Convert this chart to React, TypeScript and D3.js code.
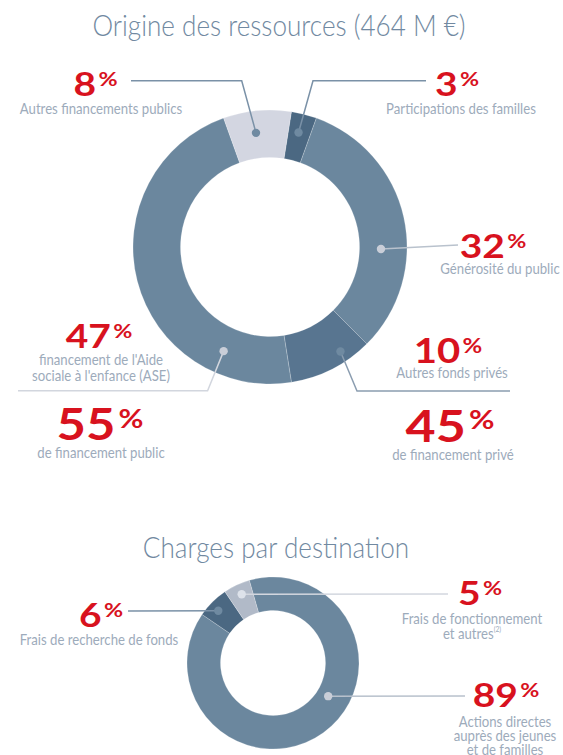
import React from "react";
import * as d3 from "d3";

// ---------- data ----------
const resourceCategories = [
  "Participations des familles",
  "Générosité du public",
  "Autres fonds privés",
  "financement de l'Aide sociale à l'enfance (ASE)",
  "Autres financements publics",
];
const resourceValues = [3, 32, 10, 47, 8];
const fundingGroups = ["de financement public", "de financement privé"];
const fundingValues = [55, 45];

const chargeCategories = [
  "Actions directes auprès des jeunes et de familles",
  "Frais de recherche de fonds",
  "Frais de fonctionnement et autres",
];
const chargeValues = [89, 6, 5];

const titles = ["Origine des ressources (464 M €)", "Charges par destination"];

// ---------- styles / layout ----------
const W = 563;
const H = 755;
const FONT = "Lato, 'Open Sans', sans-serif";
const RED = "#d8121e";
const GREY = "#9dabbb";
const TITLE_C = "#7189a1";
const KDESC = 0.89;
const KNUM = 1.18;
const KTITLE = 0.87;
const DESC_SIZE = 14.8;

const topDonut = {
  cx: 270, cy: 247, ro: 137, ri: 89.5, start: 9,
  colors: ["#4b6882", "#6b879e", "#587590", "#6b879e", "#d3d6e1"],
  dots: [
    { a: 14, r: 118, fill: "#6f8aa1" },
    { a: 91, r: 111, fill: "#c9ced8" },
    { a: 146, r: 126, fill: "#6f8aa1" },
    { a: 204, r: 114, fill: "#c9ced8" },
    { a: -7, r: 115, fill: "#6f8aa1" },
  ],
  leaders: [
    { pts: [[313, 80.7], [426, 80.7]], stroke: "#7a91a7" },
    { pts: [[458, 245]], stroke: "#b9c2cd" },
    { pts: [[357, 391], [510, 391]], stroke: "#8b9db0" },
    { pts: [[207.6, 390.7], [18, 390.7]], stroke: "#d2d6de" },
    { pts: [[241.7, 80.7], [131, 80.7]], stroke: "#7a91a7" },
  ],
  labels: [
    { nx: 457, ny: 96, ns: 33, dx: 461, dy: 114, gap: 16, lines: ["Participations des familles"] },
    { nx: 493, ny: 258, ns: 33, dx: 500, dy: 274, gap: 16, lines: ["Générosité du public"] },
    { nx: 448, ny: 363, ns: 34, dx: 452, dy: 378, gap: 16, lines: ["Autres fonds privés"] },
    { nx: 99, ny: 348, ns: 33, dx: 101, dy: 365, gap: 16, lines: ["financement de l'Aide", "sociale à l'enfance (ASE)"] },
    { nx: 95.5, ny: 96, ns: 33, dx: 101, dy: 114, gap: 16, lines: ["Autres financements publics"] },
  ],
};

const fundingLabels = [
  { nx: 100, ny: 440, ns: 43 },
  { nx: 450, ny: 442, ns: 44 },
];
const fundingDesc = [
  { dx: 101, dy: 458 },
  { dx: 453, dy: 460 },
];

const bottomDonut = {
  cx: 273, cy: 663, ro: 86, ri: 52.5, start: -16,
  colors: ["#6b879e", "#4b6882", "#b1bac8"],
  dots: [
    { a: 121, r: 64.4, fill: "#c9ced8" },
    { a: -46.3, r: 75.7, fill: "#6f8aa1" },
    { a: -24.5, r: 75.5, fill: "#dde2ea" },
  ],
  leaders: [
    { pts: [[465, 696]], stroke: "#b8c1cc" },
    { pts: [[128, 611]], stroke: "#7a91a7" },
    { pts: [[448, 594]], stroke: "#d3d7df" },
  ],
  labels: [
    { nx: 506, ny: 707, ns: 33, dx: 505, dy: 727, gap: 14.2, lines: ["Actions directes", "auprès des jeunes", "et de familles"] },
    { nx: 101, ny: 627, ns: 33, dx: 99, dy: 645, gap: 14, lines: ["Frais de recherche de fonds"] },
    { nx: 480, ny: 605, ns: 33, dx: 472, dy: 624, gap: 14.5, lines: ["Frais de fonctionnement", "et autres"], sup: "(2)" },
  ],
};

const rad = (deg: number) => (deg * Math.PI) / 180;

function Pct({ x, y, value, size }: { x: number; y: number; value: number; size: number }) {
  const ps = size * 0.6;
  const cap = 0.72;
  return (
    <text
      transform={`translate(${x},${y}) scale(${KNUM},1)`}
      textAnchor="middle"
      fontFamily={FONT}
      fontWeight={700}
      fontSize={size}
      fill={RED}
    >
      {value}
      <tspan fontSize={ps} dx={size * 0.06} dy={-(size * cap - ps * cap)}>%</tspan>
    </text>
  );
}

function Desc({ x, y, lines, gap, sup }: { x: number; y: number; lines: string[]; gap: number; sup?: string }) {
  return (
    <g transform={`translate(${x},${y}) scale(${KDESC},1)`}>
      {lines.map((l, i) => (
        <text key={i} x={0} y={i * gap} textAnchor="middle" fontFamily={FONT} fontWeight={400} fontSize={DESC_SIZE} fill={GREY}>
          {l}
          {sup && i === lines.length - 1 ? (
            <tspan fontSize={7.5} dy={-6}>{sup}</tspan>
          ) : null}
        </text>
      ))}
    </g>
  );
}

function Donut({ cfg, values }: { cfg: any; values: number[] }) {
  const pie = d3
    .pie<number>()
    .sort(null)
    .value((d) => d)
    .startAngle(rad(cfg.start))
    .endAngle(rad(cfg.start + 360));
  const arc = d3.arc<d3.PieArcDatum<number>>().innerRadius(cfg.ri).outerRadius(cfg.ro);
  const arcs = pie(values);
  const dotPos = (i: number) => {
    const d = cfg.dots[i];
    return [cfg.cx + d.r * Math.sin(rad(d.a)), cfg.cy - d.r * Math.cos(rad(d.a))];
  };
  const line = d3.line();
  return (
    <g>
      <g transform={`translate(${cfg.cx},${cfg.cy})`}>
        {arcs.map((a, i) => (
          <path key={i} d={arc(a) || ""} fill={cfg.colors[i]} stroke="#ffffff" strokeOpacity={0.35} strokeWidth={0.6} />
        ))}
      </g>
      {values.map((_, i) => {
        const p = dotPos(i);
        const L = cfg.leaders[i];
        const pts = [p, ...L.pts] as [number, number][];
        return (
          <g key={i}>
            <path d={line(pts) || ""} fill="none" stroke={L.stroke} strokeWidth={1.5} />
            <circle cx={p[0]} cy={p[1]} r={4.2} fill={cfg.dots[i].fill} />
          </g>
        );
      })}
      {values.map((v, i) => {
        const lb = cfg.labels[i];
        return (
          <g key={"l" + i}>
            <Pct x={lb.nx} y={lb.ny} value={v} size={lb.ns} />
            <Desc x={lb.dx} y={lb.dy} lines={lb.lines} gap={lb.gap} sup={lb.sup} />
          </g>
        );
      })}
    </g>
  );
}

export default function App() {
  return (
    <svg width={W} height={H} viewBox={`0 0 ${W} ${H}`} style={{ position: "absolute", left: 0, top: 0, background: "#fff" }}>
      <text transform={`translate(279,36) scale(${KTITLE},1)`} textAnchor="middle" fontFamily={FONT} fontWeight={300} fontSize={30} fill={TITLE_C}>
        {titles[0]}
      </text>
      <Donut cfg={topDonut} values={resourceValues} />
      {fundingValues.map((v, i) => (
        <g key={i}>
          <Pct x={fundingLabels[i].nx} y={fundingLabels[i].ny} value={v} size={fundingLabels[i].ns} />
          <Desc x={fundingDesc[i].dx} y={fundingDesc[i].dy} lines={[fundingGroups[i]]} gap={16} />
        </g>
      ))}
      <text transform={`translate(276,558) scale(${KTITLE},1)`} textAnchor="middle" fontFamily={FONT} fontWeight={300} fontSize={30} fill={TITLE_C}>
        {titles[1]}
      </text>
      <Donut cfg={bottomDonut} values={chargeValues} />
    </svg>
  );
}
